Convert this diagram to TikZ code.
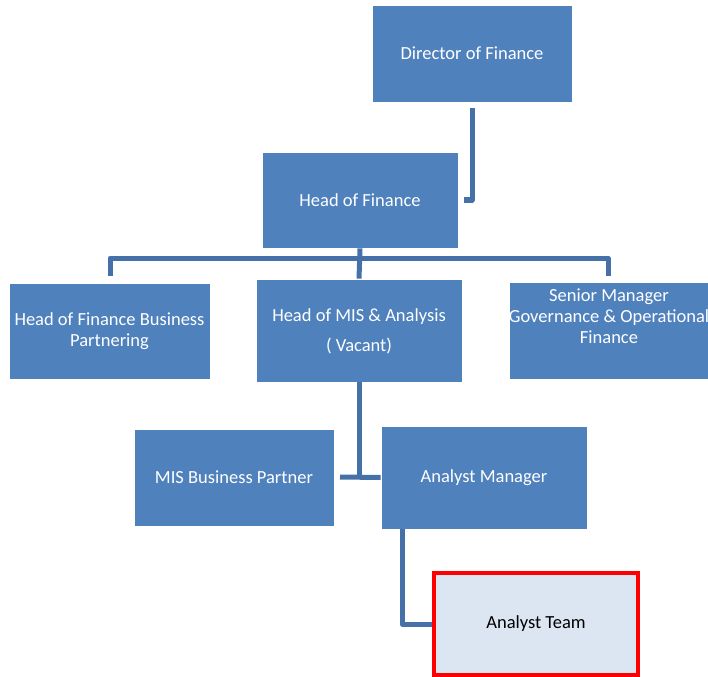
\documentclass[tikz,border=0pt]{standalone}
\usepackage{fontspec}
\setmainfont{Carlito}
\definecolor{boxblue}{HTML}{4F81BD}
\definecolor{lineblue}{HTML}{4671A8}
\definecolor{paleblue}{HTML}{DCE6F2}
\begin{document}
\begin{tikzpicture}[x=1pt,y=-1pt,
  lbl/.style={font=\fontsize{18.5}{21}\selectfont, align=center, inner sep=0pt},
  orgbox/.style={lbl, fill=boxblue, draw=white, line width=0.8pt, text=white},
  wtext/.style={lbl, text=white},
  teambox/.style={lbl, fill=paleblue, draw=red, line width=4.5pt, text=black},
  conn/.style={draw=lineblue, line width=5pt, line join=round}]
\useasboundingbox (0,0) rectangle (708,676);
\fill[white] (0,0) rectangle (708,676);
% boxes
\node[orgbox, minimum width=200pt, minimum height=97pt] (dir) at (472,53.5) {Director of Finance};
\node[orgbox, minimum width=196pt, minimum height=96pt] (hof) at (360,200) {Head of Finance};
\node[orgbox, minimum width=201pt, minimum height=96pt] (hfbp) at (109.5,331) {Head of Finance Business\\Partnering};
\node[orgbox, minimum width=206pt, minimum height=103pt] (mis) at (359,330.5) {};
\node[wtext, font=\fontsize{18.5}{30}\selectfont] (mistext) at (359,331) {Head of MIS \& Analysis\\( Vacant)};
\node[orgbox, minimum width=200pt, minimum height=97pt] (smg) at (609,330.5) {};
\node[wtext, anchor=north] (smgtext) at (609,289) {Senior Manager\\Governance \& Operational\\Finance};
\node[orgbox, minimum width=200pt, minimum height=97pt] (misbp) at (234,477.5) {MIS Business Partner};
\node[orgbox, minimum width=206pt, minimum height=103pt] (am) at (484,477.5) {Analyst Manager};
\node[teambox, minimum width=204pt, minimum height=102pt] (team) at (536,624) {Analyst Team};
% connectors
\coordinate (d1) at (472,108);
\coordinate (d2) at (464,200);
\draw[conn] (d1) |- (d2);
\coordinate (busL) at (110,276);
\coordinate (busR) at (608,276);
\coordinate (busC) at (360,258);
\draw[conn] (busL) |- (busC) -| (busR);
\draw[conn] (hof.south) -- (mis.north);
\coordinate (m1) at (359,382);
\coordinate (m2) at (359,477);
\coordinate (m3) at (340,477);
\draw[conn] (m1) -- (m2);
\draw[conn] (m3) -- (am.west);
\coordinate (a1) at (402,529);
\draw[conn] (a1) |- (team.west);
\end{tikzpicture}
\end{document}
